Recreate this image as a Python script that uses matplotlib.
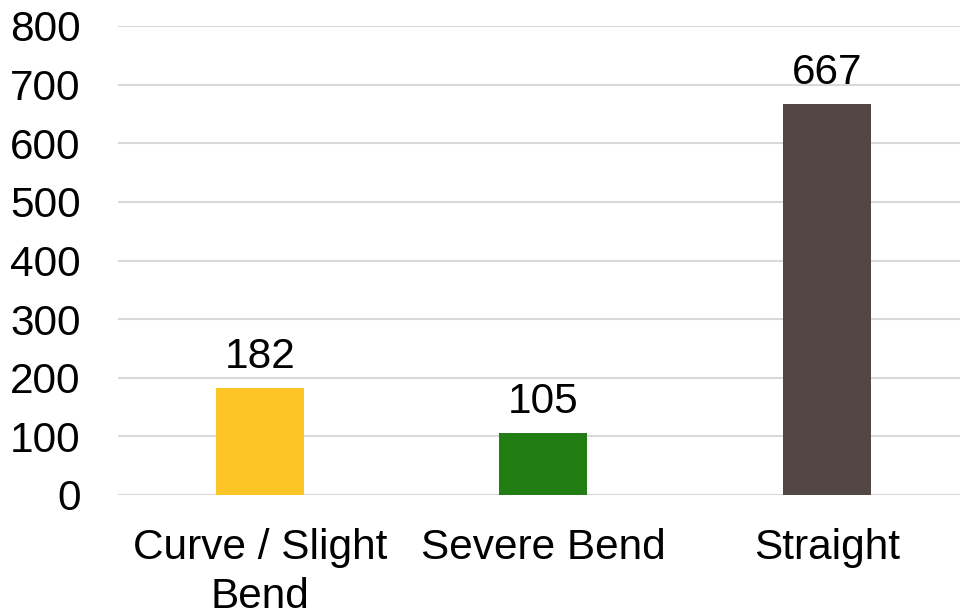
import matplotlib
matplotlib.use("Agg")
import matplotlib.pyplot as plt

categories = ["Curve / Slight\nBend", "Severe Bend", "Straight"]
values = [182, 105, 667]
colors = ["#FDC425", "#227E12", "#524745"]
yticks = [0, 100, 200, 300, 400, 500, 600, 700, 800]

plt.rcParams['font.family'] = ['Liberation Sans', 'DejaVu Sans']

fig = plt.figure(figsize=(9.6, 6.13), dpi=100)
W, H = 960, 613
left_px, right_px = 118, 968.5
top_px, bot_px = 26, 495
ax = fig.add_axes([left_px / W, 1 - bot_px / H, (right_px - left_px) / W, (bot_px - top_px) / H])

FS = 30.5
x = list(range(len(categories)))
bars = ax.bar(x, values, width=0.31, color=colors, zorder=3)
for xi, v in zip(x, values):
    ax.annotate(str(v), (xi, v), xytext=(0, 14.5), textcoords="offset points",
                ha="center", va="baseline", fontsize=FS, color="black")

ax.set_xlim(-0.5, 2.5)
ax.set_ylim(0, 800)
ax.set_yticks(yticks)
ax.set_yticklabels([str(t) for t in yticks])
ax.set_xticks(x)
ax.set_xticklabels(categories, linespacing=1.27)
ax.tick_params(axis="y", length=0, pad=27, labelsize=FS)
ax.tick_params(axis="x", length=0, pad=24, labelsize=FS)
ax.yaxis.grid(True, color="#d9d9d9", linewidth=1.5, zorder=0)
ax.set_axisbelow(True)
for s in ax.spines.values():
    s.set_visible(False)

fig.savefig("out.png", dpi=100)
